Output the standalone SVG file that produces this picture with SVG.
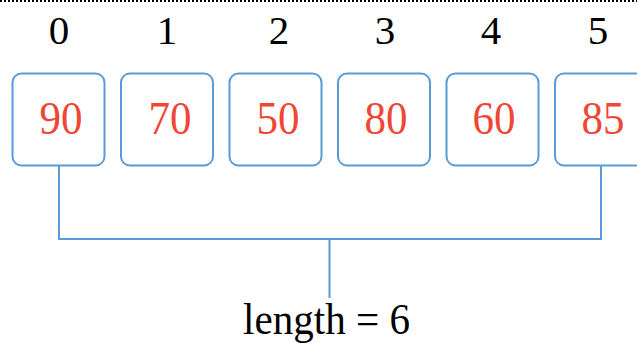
<svg xmlns="http://www.w3.org/2000/svg" width="637" height="343" viewBox="0 0 637 343">
<style>
.box{fill:#fff;stroke:#5b9bd5;stroke-width:2}
.idx{font-family:"Liberation Serif",serif;font-size:41px;fill:#000;text-anchor:middle}
.val{font-family:"Liberation Serif",serif;font-size:47px;fill:#f04636;text-anchor:middle}
.conn{fill:none;stroke:#5b9bd5;stroke-width:2}
.lbl{font-family:"Liberation Serif",serif;font-size:44px;fill:#000;text-anchor:middle}
</style>
<rect width="637" height="343" fill="#fff"/>
<line x1="0" y1="1" x2="637" y2="1" stroke="#000" stroke-width="2" stroke-dasharray="2 2"/>
<g id="node0"><text class="idx" x="59" y="44">0</text><rect class="box" x="12.5" y="73.5" width="92" height="92" rx="9"/><text class="val" x="61" y="134" textLength="43" lengthAdjust="spacingAndGlyphs">90</text></g>
<g id="node1"><text class="idx" x="167" y="44">1</text><rect class="box" x="121" y="73.5" width="92" height="92" rx="9"/><text class="val" x="170" y="134" textLength="43" lengthAdjust="spacingAndGlyphs">70</text></g>
<g id="node2"><text class="idx" x="279" y="44">2</text><rect class="box" x="229.5" y="73.5" width="92" height="92" rx="9"/><text class="val" x="278" y="134" textLength="43" lengthAdjust="spacingAndGlyphs">50</text></g>
<g id="node3"><text class="idx" x="385" y="44">3</text><rect class="box" x="338" y="73.5" width="92" height="92" rx="9"/><text class="val" x="386" y="134" textLength="43" lengthAdjust="spacingAndGlyphs">80</text></g>
<g id="node4"><text class="idx" x="491" y="44">4</text><rect class="box" x="446.5" y="73.5" width="92" height="92" rx="9"/><text class="val" x="494" y="134" textLength="43" lengthAdjust="spacingAndGlyphs">60</text></g>
<g id="node5"><text class="idx" x="598" y="44">5</text><rect class="box" x="555" y="73.5" width="92" height="92" rx="9"/><text class="val" x="603" y="134" textLength="43" lengthAdjust="spacingAndGlyphs">85</text></g>
<g id="connectors">
<path class="conn" d="M59,165.5 V239 H601 V165.5"/>
<path class="conn" d="M329.5,239 V298"/>
</g>
<g id="label"><text class="lbl" x="326.5" y="334" textLength="167" lengthAdjust="spacingAndGlyphs">length = 6</text></g>
</svg>
